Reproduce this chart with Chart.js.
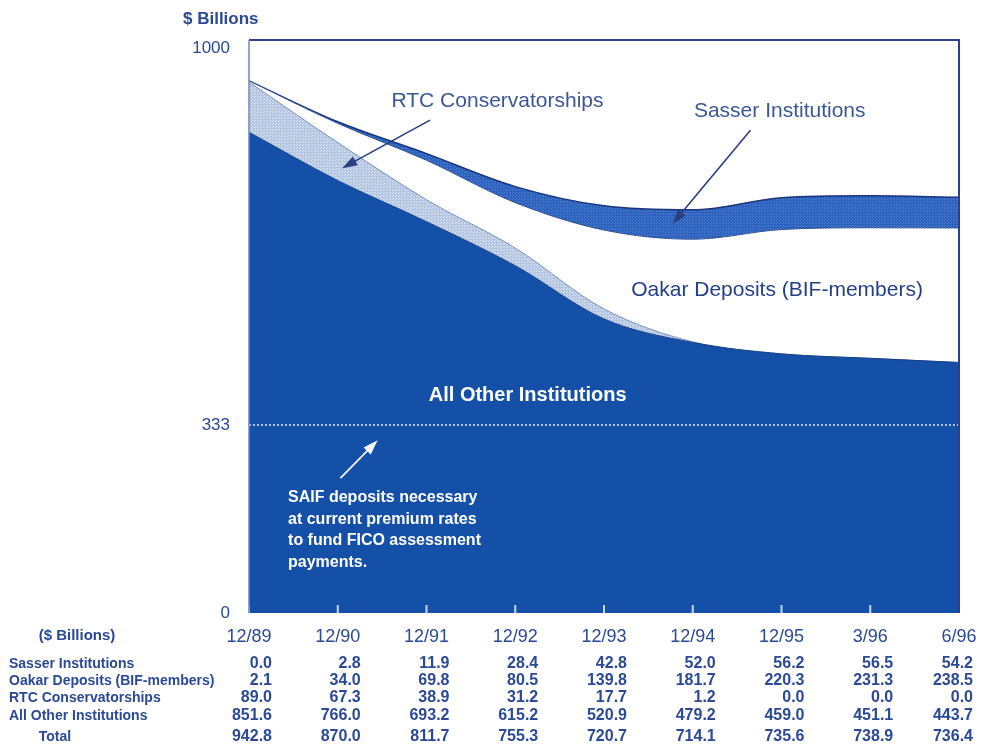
<!DOCTYPE html>
<html>
<head>
<meta charset="utf-8">
<title>Deposits chart</title>
<script src="https://cdn.jsdelivr.net/npm/chart.js@4.4.1/dist/chart.umd.min.js"></script>
<style>
  html, body { margin: 0; padding: 0; background: #fff; }
  #wrap { position: relative; width: 981px; height: 748px; }
</style>
</head>
<body>
<div id="wrap"><canvas id="depositChart" width="981" height="748"></canvas></div>
<script>
// Values ($ billions)
const periods = ['12/89', '12/90', '12/91', '12/92', '12/93', '12/94', '12/95', '3/96', '6/96'];
const sasser = [0.0, 2.8, 11.9, 28.4, 42.8, 52.0, 56.2, 56.5, 54.2];
const oakar = [2.1, 34.0, 69.8, 80.5, 139.8, 181.7, 220.3, 231.3, 238.5];
const rtc = [89.0, 67.3, 38.9, 31.2, 17.7, 1.2, 0.0, 0.0, 0.0];
const allOther = [851.6, 766.0, 693.2, 615.2, 520.9, 479.2, 459.0, 451.1, 443.7];
const totals = [942.8, 870.0, 811.7, 755.3, 720.7, 714.1, 735.6, 738.9, 736.4];
const yTicks = [0, 333, 1000];
const saifLevel = 333;

const rowLabels = ['Sasser Institutions', 'Oakar Deposits (BIF-members)', 'RTC Conservatorships', 'All Other Institutions'];
const rowValues = [sasser, oakar, rtc, allOther];

const TEXT_BLUE = '#2a4996';
const NAVY = '#1c357c';

// small stipple patterns for the hatched bands
function makePattern(base, dot) {
    const c = document.createElement('canvas');
    c.width = 3; c.height = 3;
    const g = c.getContext('2d');
    g.fillStyle = base;
    g.fillRect(0, 0, 3, 3);
    g.fillStyle = dot;
    g.fillRect(0, 0, 1, 1);
    g.fillRect(2, 1, 1, 1);
    return g.createPattern(c, 'repeat');
}
const ctx = document.getElementById('depositChart').getContext('2d');
const rtcFill = makePattern('#b3c5e3', '#dfe8f5');
const sasserFill = makePattern('#2c62bd', '#4f80cf');

function arrow(g, x1, y1, x2, y2, color) {
    const a = Math.atan2(y2 - y1, x2 - x1);
    g.save();
    g.strokeStyle = color;
    g.fillStyle = color;
    g.lineWidth = 1.6;
    g.beginPath();
    g.moveTo(x1, y1);
    g.lineTo(x2 - 10 * Math.cos(a), y2 - 10 * Math.sin(a));
    g.stroke();
    g.beginPath();
    g.moveTo(x2, y2);
    g.lineTo(x2 - 15 * Math.cos(a) + 5 * Math.sin(a), y2 - 15 * Math.sin(a) - 5 * Math.cos(a));
    g.lineTo(x2 - 15 * Math.cos(a) - 5 * Math.sin(a), y2 - 15 * Math.sin(a) + 5 * Math.cos(a));
    g.closePath();
    g.fill();
    g.restore();
}

const decorations = {
    id: 'decorations',
    afterDatasetsDraw(chart) {
        const g = chart.ctx;
        const area = chart.chartArea;
        const xs = chart.scales.x;
        const ys = chart.scales.y;
        const px = i => xs.getPixelForValue(i);
        const py = v => ys.getPixelForValue(v);

        // SAIF dotted line
        g.save();
        g.strokeStyle = 'rgba(235,242,255,0.95)';
        g.lineWidth = 1.5;
        g.setLineDash([2, 2]);
        g.beginPath();
        g.moveTo(area.left, py(saifLevel));
        g.lineTo(area.right, py(saifLevel));
        g.stroke();
        g.restore();

        // small tick marks inside the bottom of the plot
        g.save();
        g.strokeStyle = 'rgba(215,228,248,0.9)';
        g.lineWidth = 2;
        periods.forEach((p, i) => {
            g.beginPath();
            g.moveTo(px(i), area.bottom);
            g.lineTo(px(i), area.bottom - 8);
            g.stroke();
        });
        g.restore();

        // frame
        g.save();
        g.strokeStyle = '#2b3f8c';
        g.lineWidth = 2;
        g.beginPath();
        g.moveTo(area.left, area.top);
        g.lineTo(area.right, area.top);
        g.lineTo(area.right, area.bottom);
        g.stroke();
        g.strokeStyle = '#6f86b8';
        g.lineWidth = 1.5;
        g.beginPath();
        g.moveTo(area.left, area.top);
        g.lineTo(area.left, area.bottom);
        g.stroke();
        g.restore();

        // labels and arrows inside the plot
        g.save();
        g.textAlign = 'center';
        g.textBaseline = 'middle';
        g.fillStyle = '#3a5796';
        g.font = '21px "Liberation Sans", Arial, sans-serif';
        g.fillText('RTC Conservatorships', px(2.8), py(907));
        g.fillText('Sasser Institutions', px(5.98), py(889));
        g.fillStyle = '#223f8c';
        g.fillText('Oakar Deposits (BIF-members)', px(5.95), py(572));
        g.fillStyle = '#ffffff';
        g.font = 'bold 20px "Liberation Sans", Arial, sans-serif';
        g.fillText('All Other Institutions', px(3.14), py(386));

        g.textAlign = 'left';
        g.font = 'bold 16px "Liberation Sans", Arial, sans-serif';
        const saifLines = ['SAIF deposits necessary', 'at current premium rates', 'to fund FICO assessment', 'payments.'];
        saifLines.forEach((t, k) => g.fillText(t, px(0.44), py(204) + k * 21.5));
        g.restore();

        arrow(g, px(2.04), py(873), px(1.05), py(788), '#2a3f7f');
        arrow(g, px(5.65), py(855), px(4.77), py(689), '#2a3f7f');
        arrow(g, px(1.03), py(239), px(1.45), py(306), '#ffffff');

        // axis title
        g.save();
        g.fillStyle = TEXT_BLUE;
        g.font = 'bold 17px "Liberation Sans", Arial, sans-serif';
        g.textAlign = 'left';
        g.textBaseline = 'middle';
        g.fillText('$ Billions', 183, 19);
        g.restore();

        // data table under the axis
        g.save();
        g.fillStyle = TEXT_BLUE;
        g.textBaseline = 'middle';
        g.textAlign = 'center';
        g.font = 'bold 15px "Liberation Sans", Arial, sans-serif';
        g.fillText('($ Billions)', 77, 636);
        const rowY = [664, 681, 698, 716];
        rowLabels.forEach((lab, r) => {
            g.textAlign = 'left';
            g.font = 'bold 14px "Liberation Sans", Arial, sans-serif';
            g.fillText(lab, 9, rowY[r]);
            g.textAlign = 'right';
            g.font = 'bold 16px "Liberation Sans", Arial, sans-serif';
            rowValues[r].forEach((v, i) => g.fillText(v.toFixed(1), Math.min(px(i) + 23, 973), rowY[r]));
        });
        g.textAlign = 'center';
        g.font = 'bold 14px "Liberation Sans", Arial, sans-serif';
        g.fillText('Total', 55, 737);
        g.textAlign = 'right';
        g.font = 'bold 16px "Liberation Sans", Arial, sans-serif';
        totals.forEach((v, i) => g.fillText(v.toFixed(1), Math.min(px(i) + 23, 973), 737));
        g.restore();
    }
};

new Chart(ctx, {
    type: 'line',
    data: {
        labels: periods,
        datasets: [
            {
                label: 'All Other Institutions',
                data: allOther,
                backgroundColor: '#1550a8',
                borderColor: '#183f8a',
                borderWidth: 1,
                fill: 'origin'
            },
            {
                label: 'RTC Conservatorships',
                data: rtc,
                backgroundColor: rtcFill,
                borderColor: '#7d90b6',
                borderWidth: 1,
                fill: '-1'
            },
            {
                label: 'Oakar Deposits (BIF-members)',
                data: oakar,
                backgroundColor: '#ffffff',
                borderColor: '#2b4e96',
                borderWidth: 1,
                fill: '-1'
            },
            {
                label: 'Sasser Institutions',
                data: sasser,
                backgroundColor: sasserFill,
                borderColor: NAVY,
                borderWidth: 1.5,
                fill: '-1'
            }
        ]
    },
    options: {
        responsive: false,
        animation: false,
        layout: { padding: { left: 189, top: 40, right: 22, bottom: 0 } },
        elements: {
            point: { radius: 0 },
            line: { cubicInterpolationMode: 'monotone' }
        },
        plugins: {
            legend: { display: false },
            tooltip: { enabled: false }
        },
        scales: {
            x: {
                type: 'category',
                offset: false,
                grid: { display: false, drawTicks: false },
                border: { display: false },
                ticks: {
                    color: TEXT_BLUE,
                    font: { size: 18, family: '"Liberation Sans", Arial, sans-serif' },
                    padding: 13,
                    maxRotation: 0,
                    autoSkip: false
                },
                afterFit: s => { s.height = 135; s.paddingLeft = 0; s.paddingRight = 0; }
            },
            y: {
                stacked: true,
                min: 0,
                max: 1015,
                grid: { display: false, drawTicks: false },
                border: { display: false },
                afterBuildTicks: s => { s.ticks = yTicks.map(v => ({ value: v })); },
                ticks: {
                    color: TEXT_BLUE,
                    font: { size: 17, family: '"Liberation Sans", Arial, sans-serif' },
                    padding: 19,
                    callback: v => String(v)
                },
                afterFit: s => { s.width = 60; s.paddingTop = 0; s.paddingBottom = 0; }
            }
        }
    },
    plugins: [decorations]
});
</script>
</body>
</html>
